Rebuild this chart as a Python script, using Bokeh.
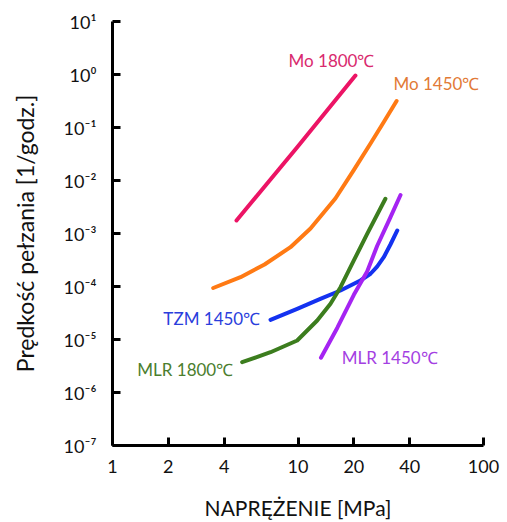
from bokeh.plotting import figure
from bokeh.models import Range1d, FixedTicker, ColumnDataSource
from bokeh.core.properties import value
from bokeh.embed import file_html
from bokeh.resources import INLINE

# ---- data ----
mo1800_x = [4.66, 9.9, 20.4]
mo1800_y = [1.76e-3, 4.25e-2, 0.957]

mo1450_x = [3.49, 4.90, 6.60, 9.11, 11.68, 15.9, 19.9, 24.6, 28.9, 34.0]
mo1450_y = [9.37e-5, 1.50e-4, 2.60e-4, 5.52e-4, 1.24e-3, 4.57e-3, 1.54e-2, 4.99e-2, 0.124, 0.316]

tzm1450_x = [7.11, 9.90, 13.2, 16.95, 21.7, 24.6, 26.7, 29.0, 31.5, 34.3]
tzm1450_y = [2.35e-5, 3.79e-5, 5.86e-5, 8.41e-5, 1.30e-4, 1.74e-4, 2.38e-4, 3.57e-4, 6.2e-4, 1.14e-3]

mlr1800_x = [5.00, 7.11, 9.90, 12.69, 14.97, 16.95, 20.0, 23.6, 29.6]
mlr1800_y = [3.73e-6, 5.75e-6, 9.57e-6, 2.28e-5, 4.72e-5, 9.7e-5, 3.10e-4, 9.87e-4, 4.52e-3]

mlr1450_x = [13.3, 16.3, 20.0, 23.6, 26.7, 30.9, 35.7]
mlr1450_y = [4.52e-6, 1.67e-5, 6.97e-5, 1.92e-4, 5.81e-4, 1.75e-3, 5.32e-3]

series_names = ["Mo 1800℃", "Mo 1450℃", "TZM 1450℃", "MLR 1800℃", "MLR 1450℃"]
label_x = [8.89, 32.7, 1.88, 1.36, 17.2]
label_y = [1.84, 0.676, 2.49e-5, 2.72e-6, 4.57e-6]

x_ticks = [1, 2, 4, 10, 20, 40, 100]
x_tick_labels = ["1", "2", "4", "10", "20", "40", "100"]
y_ticks = [1e1, 1e0, 1e-1, 1e-2, 1e-3, 1e-4, 1e-5, 1e-6, 1e-7]
y_tick_labels = ["10¹", "10⁰", "10⁻¹", "10⁻²", "10⁻³", "10⁻⁴", "10⁻⁵", "10⁻⁶", "10⁻⁷"]

line_colors = ["#EC1465", "#FF7A14", "#1432F0", "#3C7D1E", "#A524F2"]
text_colors = ["#D92A6E", "#E27A36", "#2A3EDC", "#4B7E2E", "#A43FE2"]

FONT = "Lato"

p = figure(width=507, height=522, x_axis_type="log", y_axis_type="log",
           x_range=Range1d(1, 100), y_range=Range1d(1e-7, 1e1),
           output_backend="svg", toolbar_location=None,
           min_border_left=112, min_border_right=24,
           min_border_top=21, min_border_bottom=77)
p.outline_line_color = None
p.xgrid.visible = False
p.ygrid.visible = False
p.background_fill_color = "white"
p.border_fill_color = "white"

series = [(mo1800_x, mo1800_y), (mo1450_x, mo1450_y), (tzm1450_x, tzm1450_y),
          (mlr1800_x, mlr1800_y), (mlr1450_x, mlr1450_y)]
for (xs, ys), c in zip(series, line_colors):
    p.line(xs, ys, line_color=c, line_width=4, line_cap="round", line_join="round")

src = ColumnDataSource(dict(x=label_x, y=label_y, t=series_names, c=text_colors))
p.text(x="x", y="y", text="t", text_color="c", source=src,
       text_font=value(FONT), text_font_size="17px",
       text_align="left", text_baseline="middle")

for ax in (p.xaxis[0], p.yaxis[0]):
    ax.axis_line_width = 3
    ax.axis_line_color = "black"
    ax.major_tick_line_width = 3
    ax.major_tick_line_color = "black"
    ax.major_tick_in = 8
    ax.major_tick_out = 0
    ax.minor_tick_line_color = None
    ax.major_label_text_font = FONT
    ax.major_label_text_font_size = "18px"
    ax.major_label_text_color = "#111111"
    ax.axis_label_text_font = FONT
    ax.axis_label_text_font_style = "normal"
    ax.axis_label_text_color = "#111111"

p.xaxis.ticker = FixedTicker(ticks=x_ticks)
p.xaxis.major_label_overrides = {t: l for t, l in zip(x_ticks, x_tick_labels)}
p.xaxis.axis_label = "NAPRĘŻENIE [MPa]"
p.xaxis.axis_label_text_font_size = "21px"
p.xaxis.major_label_standoff = 14
p.xaxis.axis_label_standoff = 19

p.yaxis.ticker = FixedTicker(ticks=y_ticks)
p.yaxis.major_label_overrides = {t: l for t, l in zip(y_ticks, y_tick_labels)}
p.yaxis.axis_label = "Prędkość pełzania [1/godz.]"
p.yaxis.axis_label_text_font_size = "23px"
p.yaxis.major_label_standoff = 16
p.yaxis.axis_label_standoff = 22

open("out.html", "w").write(file_html(p, INLINE))
